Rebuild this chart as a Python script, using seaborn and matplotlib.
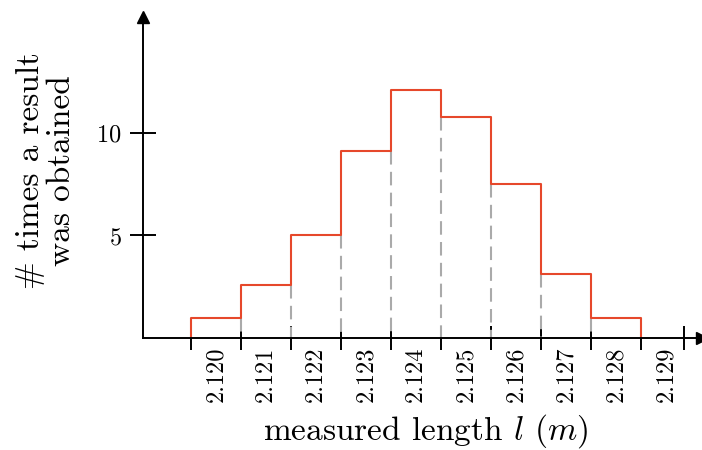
import numpy as np
import pandas as pd
import matplotlib
matplotlib.use("Agg")
import matplotlib.pyplot as plt
import seaborn as sns

# measured lengths (bin centres, m) and how often each was obtained
lengths = [2.120, 2.121, 2.122, 2.123, 2.124, 2.125, 2.126, 2.127, 2.128]
counts = [1.0, 2.6, 5.0, 9.1, 12.1, 10.8, 7.5, 3.1, 1.0]
tick_labels = ["2.120", "2.121", "2.122", "2.123", "2.124",
               "2.125", "2.126", "2.127", "2.128", "2.129"]
label_pos = [2.120, 2.121, 2.122, 2.123, 2.124, 2.125, 2.126, 2.127, 2.128, 2.129]
y_ticks = [5, 10]

red = "#e6482b"
gray = "#aaaaaa"

sns.set_style("white")
plt.rcParams["font.family"] = ["cmr10", "DejaVu Serif"]
plt.rcParams["mathtext.fontset"] = "cm"
plt.rcParams["axes.unicode_minus"] = False
plt.rcParams["axes.formatter.use_mathtext"] = True
plt.rcParams["text.color"] = "black"
plt.rcParams["xtick.color"] = "black"
plt.rcParams["ytick.color"] = "black"

df = pd.DataFrame({"length": lengths, "count": counts})
width = 0.001
edges = np.round(np.array(lengths) - width / 2, 5)
edges = np.append(edges, edges[-1] + width)

W, H = 702, 450
fig = plt.figure(figsize=(W / 100, H / 100), dpi=100)
ax = fig.add_axes([143 / W, (H - 338) / H, (W - 143) / W, (338 - 17) / H])

x0 = edges[0] - 48 / 50 * width
x1 = edges[0] + (W - 191) / 50 * width

# dashed inner bin edges
inner_h = np.minimum(counts[:-1], counts[1:])
for e, h in zip(edges[1:-1], inner_h):
    ax.plot([e, e], [h, 0], color=gray, lw=1.5, dashes=(6.5, 3.5), zorder=2)

# red outline of the histogram
sns.histplot(data=df, x="length", weights="count", bins=list(edges), element="step",
             fill=False, color=red, linewidth=1.5, ax=ax, zorder=3)
# outer sides down to the axis
ax.vlines([edges[0], edges[-1]], 0, [counts[0], counts[-1]], color=red, lw=1.5, zorder=3)

ax.set_xlim(x0, x1)
ax.set_ylim(0, (338 - 17) / 20.5)

for s in ["top", "right"]:
    ax.spines[s].set_visible(False)
for s in ["left", "bottom"]:
    ax.spines[s].set_linewidth(1.4)
    ax.spines[s].set_color("black")
    ax.spines[s].set_zorder(4)

ax.plot([0], [1], marker="^", color="black", markersize=9, transform=ax.transAxes,
        clip_on=False, zorder=5)
ax.plot([1], [0], marker=">", color="black", markersize=9, transform=ax.transAxes,
        clip_on=False, zorder=5)

major = list(edges) + [edges[0] + (684.5 - 191) / 50 * width]
ax.set_xticks(major)
ax.set_xticks(label_pos, tick_labels, minor=True)
ax.tick_params(axis="x", which="major", bottom=True, direction="inout", length=17,
               width=1.4, labelbottom=False)
ax.tick_params(axis="x", which="minor", bottom=True, length=0, rotation=90,
               labelsize=17.5, pad=6)

ax.set_yticks(y_ticks)
ax.tick_params(axis="y", left=True, direction="inout", length=19, width=1.4,
               labelsize=17.5, pad=6)

ax.set_xlabel("")
ax.set_ylabel("")

fig.text(426 / W, 1 - 440 / H, r"measured length $l$ $(m)$", ha="center",
         va="baseline", fontsize=24)
fig.text(46 / W, 1 - 171 / H, "# times a result\nwas obtained", ha="center",
         va="center", rotation=90, multialignment="center", fontsize=24,
         linespacing=1.05)

fig.savefig("out.png", dpi=100)
